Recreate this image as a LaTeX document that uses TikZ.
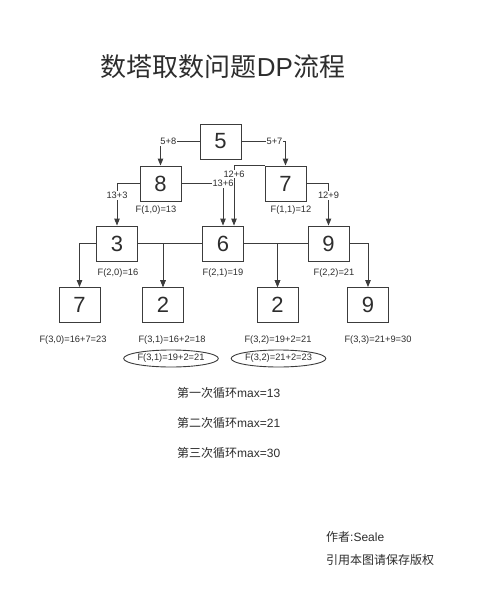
\documentclass[tikz,border=0pt]{standalone}
\usepackage{fontspec}
\setmainfont{Liberation Sans}
\newfontfamily\cjk{Noto Sans CJK SC}
\usetikzlibrary{positioning,calc,shapes.geometric,arrows.meta}
\definecolor{linegray}{RGB}{60,60,60}
\definecolor{textgray}{RGB}{45,45,45}

\begin{document}
\begin{tikzpicture}[x=1pt, y=-1pt,
    numbox/.style={rectangle, draw=linegray, line width=0.9pt, minimum width=41pt, minimum height=35pt, inner sep=0pt, text=textgray, font=\fontsize{22}{22}\selectfont},
    arr/.style={-{Triangle[length=7pt,width=5.5pt]}, draw=linegray, line width=0.9pt},
    lbl/.style={fill=white, inner sep=1pt, text=textgray, font=\fontsize{9.3}{10}\selectfont},
    flbl/.style={inner sep=1pt, text=textgray, font=\fontsize{9.3}{10}\selectfont},
    oval/.style={ellipse, draw=linegray, line width=0.9pt, minimum width=94pt, minimum height=17pt, inner sep=0pt, text=textgray, font=\fontsize{9.3}{10}\selectfont},
    note/.style={anchor=west, inner sep=0pt, text=textgray, font=\fontsize{12}{14}\selectfont}]
    \useasboundingbox (0,0) rectangle (500,614);

    % Title
    \node (title) at (223,67) [text=textgray, font=\fontsize{26}{28}\selectfont] {{\cjk 数塔取数问题}DP{\cjk 流程}};

    % Tower
    \node (b5) [numbox] at (220.5,141.5) {5};
    \node (b8) [numbox] at (160.5,183.5) {8};
    \node (b7) [numbox] at (285.5,183.5) {7};
    \node (b3) [numbox] at (117,243.5) {3};
    \node (b6) [numbox] at (223,243.5) {6};
    \node (b9) [numbox] at (328.5,243.5) {9};
    \node (r7) [numbox] at (79.5,305) {7};
    \node (r2a) [numbox] at (163,305) {2};
    \node (r2b) [numbox] at (277.5,305) {2};
    \node (r9) [numbox] at (368,305) {9};

    % Row 1
    \draw [arr] (b5.west) -| (b8.north) node [lbl, pos=0.4] {5+8};
    \draw [arr] (b5.east) -| (b7.north) node [lbl, pos=0.375] {5+7};

    % Row 2
    \coordinate (in126) at ($(b6.north)+(11,0)$);
    \draw [arr] (b8.west) -| (b3.north) node [lbl, pos=0.64] {13+3};
    \draw [arr] (b8.east) -| (b6.north) node [lbl, pos=0.5] {13+6};
    \draw [arr] (b7.north west) -| (in126) node [lbl, pos=0.57] {12+6};
    \draw [arr] (b7.east) -| (b9.north) node [lbl, pos=0.64] {12+9};
    \node at (156,210) [flbl] {F(1,0)=13};
    \node at (291,210) [flbl] {F(1,1)=12};

    % Row 3
    \draw [arr] (b3.west) -| (r7.north);
    \draw [arr] (b3.east) -| (r2a.north);
    \draw [arr] (b6.west) -| (r2a.north);
    \draw [arr] (b6.east) -| (r2b.north);
    \draw [arr] (b9.west) -| (r2b.north);
    \draw [arr] (b9.east) -| (r9.north);
    \node at (118,273) [flbl] {F(2,0)=16};
    \node at (223,273) [flbl] {F(2,1)=19};
    \node at (334,273) [flbl] {F(2,2)=21};

    % Bottom row results
    \node at (73,340) [flbl] {F(3,0)=16+7=23};
    \node at (172,340) [flbl] {F(3,1)=16+2=18};
    \node at (278,340) [flbl] {F(3,2)=19+2=21};
    \node at (378,340) [flbl] {F(3,3)=21+9=30};
    \node (best1) at (171,358.5) [oval] {F(3,1)=19+2=21};
    \node (best2) at (278.5,358.5) [oval] {F(3,2)=21+2=23};

    % Loop maxima
    \node (loop1) at (177,393) [note] {{\cjk 第一次循环}max=13};
    \node (loop2) at (177,423) [note] {{\cjk 第二次循环}max=21};
    \node (loop3) at (177,453) [note] {{\cjk 第三次循环}max=30};

    % Footer
    \node (author) at (326,537) [note] {{\cjk 作者}:Seale};
    \node (rights) at (326,560) [note] {\cjk 引用本图请保存版权};
\end{tikzpicture}
\end{document}
